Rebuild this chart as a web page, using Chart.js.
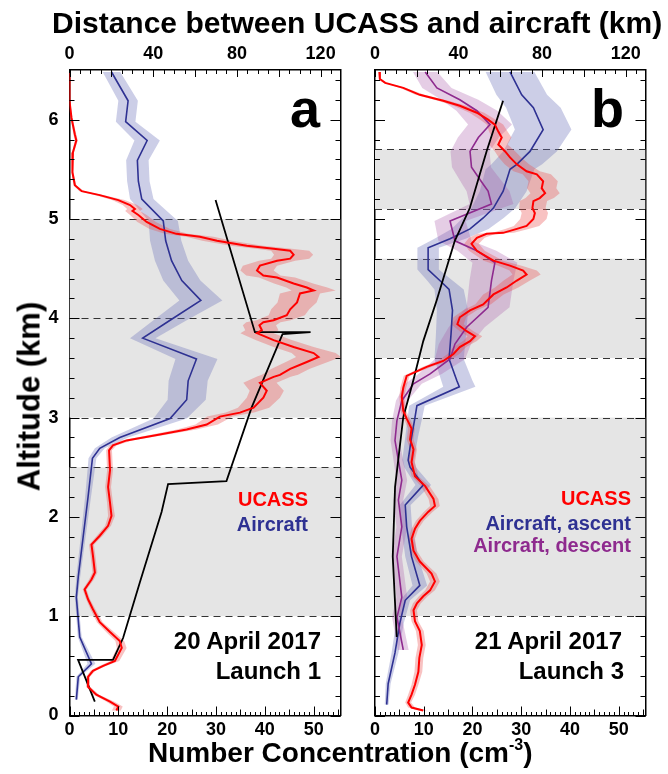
<!DOCTYPE html>
<html>
<head>
<meta charset="utf-8">
<script src="https://cdn.jsdelivr.net/npm/chart.js@4.4.1/dist/chart.umd.min.js"></script>
<style>
  html, body { margin: 0; padding: 0; background: #fff; }
  #wrap { position: relative; width: 668px; height: 774px; overflow: hidden;
          font-family: "Liberation Sans", Arial, sans-serif; font-weight: bold; }
  canvas { position: absolute; left: 0; top: 0; }
  .t { position: absolute; white-space: nowrap; line-height: 1; }
</style>
</head>
<body>
<div id="wrap">
  <canvas id="panelA" width="668" height="774"></canvas>
  <canvas id="panelB" width="668" height="774"></canvas>

  <div class="t" style="left:52px; top:7.6px; font-size:30px;">Distance between UCASS and aircraft (km)</div>
  <div class="t" style="left:148px; top:739px; font-size:28px;">Number Concentration (cm<span style="font-size:16px; position:relative; top:-12px;">-3</span>)</div>
  <div class="t" style="left:-121px; top:380.5px; width:300px; text-align:center; font-size:31px; transform:rotate(-90deg);">Altitude (km)</div>

  <div class="t" style="right:348px; top:81px; font-size:54px;">a</div>
  <div class="t" style="right:360px; top:489px; font-size:20px; color:#ff0000;">UCASS</div>
  <div class="t" style="right:360px; top:514px; font-size:20px; color:#2e3192;">Aircraft</div>
  <div class="t" style="right:347px; top:628.7px; font-size:24px;">20 April 2017</div>
  <div class="t" style="right:347px; top:658.7px; font-size:24px;">Launch 1</div>

  <div class="t" style="right:44px; top:81px; font-size:54px;">b</div>
  <div class="t" style="right:37px; top:488px; font-size:20px; color:#ff0000;">UCASS</div>
  <div class="t" style="right:37px; top:513px; font-size:20px; color:#2e3192;">Aircraft, ascent</div>
  <div class="t" style="right:37px; top:535px; font-size:20px; color:#8e2a8e;">Aircraft, descent</div>
  <div class="t" style="right:46px; top:628.7px; font-size:24px;">21 April 2017</div>
  <div class="t" style="right:44px; top:658.7px; font-size:24px;">Launch 3</div>
</div>
<script>
// tick labels
const concTicks = [0, 10, 20, 30, 40, 50];
const kmTicks = [0, 40, 80, 120];
const altTicks = [0, 1, 2, 3, 4, 5, 6];

// shaded altitude layers (km) and dashed layer edges
const layersA = [[1, 2.5], [3, 5]];
const edgesA = [1, 2.5, 3, 4, 5];
const layersB = [[1, 3], [3.6, 4.6], [5.1, 5.7]];
const edgesB = [1, 3, 3.6, 4.6, 5.1, 5.7];

// ---- 20 April 2017, launch 1 ----
const ucassA_alt = [6.47,6.19,6.02,5.85,5.79,5.67,5.47,5.34,5.28,5.24,
  5.19,5.14,5.10,5.08,5.04,4.97,4.90,4.85,4.82,4.78,
  4.73,4.70,4.68,4.64,4.60,4.58,4.53,4.48,4.43,4.41,
  4.35,4.31,4.28,4.25,4.16,4.09,4.03,3.98,3.96,3.93,
  3.88,3.85,3.78,3.71,3.65,3.61,3.56,3.49,3.43,3.41,
  3.35,3.27,3.20,3.10,3.05,3.01,2.93,2.88,2.83,2.77,
  2.72,2.67,2.47,2.30,2.14,2.01,1.91,1.81,1.72,1.61,
  1.44,1.37,1.27,1.17,1.07,0.94,0.84,0.75,0.68,0.55,
  0.50,0.45,0.39,0.29,0.21,0.14,0.09,0.05];
const ucassA_conc = [0.0,0.0,0.4,1.1,1.4,0.7,0.6,1.1,2.5,6.2,
  10.0,12.4,13.4,12.9,14.1,15.8,18.5,21.9,26.7,30.2,
  36.3,41.8,45.2,45.9,45.2,42.5,39.0,38.4,39.7,42.5,
  45.9,48.6,50.0,47.2,46.6,45.2,44.5,41.8,39.7,38.9,
  39.4,38.4,41.8,45.9,50.0,51.0,48.6,45.2,43.1,41.8,
  39.0,40.4,39.7,37.7,34.9,30.8,28.1,24.0,18.5,11.7,
  8.9,8.1,8.3,7.9,8.3,8.6,7.9,6.2,4.5,4.8,
  5.2,4.5,3.1,3.8,4.8,6.2,8.3,10.3,10.7,9.3,
  6.9,4.8,3.8,3.8,5.5,8.3,10.0,9.6];
const ucassA_err = [0.1,0.1,0.2,0.3,0.3,0.2,0.2,0.3,0.5,0.9,
  1.3,1.5,1.6,1.5,1.7,1.9,2.1,2.4,2.8,3.0,
  3.3,3.7,3.9,4.0,3.9,3.7,3.5,3.4,3.5,3.7,
  4.0,4.2,4.5,4.1,4.0,3.9,3.7,3.5,3.5,3.4,
  3.4,3.4,3.7,4.1,4.5,4.6,4.3,3.9,3.7,3.5,
  3.4,3.5,3.4,3.2,2.9,2.6,2.3,2.0,1.6,1.1,
  0.7,0.6,0.6,0.6,0.6,0.7,0.6,0.6,0.5,0.5,
  0.5,0.5,0.4,0.4,0.5,0.6,0.8,0.9,1.0,0.9,
  0.7,0.5,0.4,0.4,0.6,0.8,0.9,0.9];

const aircraftA_alt = [6.48,6.19,5.98,5.79,5.59,5.38,5.20,4.98,4.78,4.58,4.38,4.18,3.98,3.80,3.59,3.37,3.18,2.99,2.80,2.69,2.59,2.20,1.80,1.40,1.19,0.79,0.52,0.39,0.16];
const aircraftA_conc = [8.6,12.0,11.5,15.9,13.9,14.1,14.8,19.2,19.7,20.9,23.0,26.9,20.6,15.0,26.0,24.3,24.0,20.6,10.3,6.2,4.7,3.8,2.8,1.8,1.4,2.1,4.5,1.8,1.4];
const aircraftA_err = [1.8,2.0,2.0,2.6,2.3,2.3,2.4,3.0,3.2,3.4,3.8,4.4,3.4,2.6,4.3,4.0,3.9,3.4,1.7,1.0,0.8,0.6,0.5,0.4,0.3,0.4,0.8,0.4,0.3];

const distA_km = [69.8,88.6,115.2,101.8,87.0,75.0,47.1,44.0,33.6,25.6,20.8,4.1,12.1];
const distA_alt = [5.19,3.86,3.86,3.84,3.10,2.36,2.33,2.05,1.34,0.78,0.56,0.56,0.14];

// ---- 21 April 2017, launch 3 ----
const ucassB_alt = [6.48,6.41,6.37,6.32,6.25,6.19,6.14,6.07,6.00,5.95,
  5.88,5.82,5.75,5.68,5.62,5.55,5.48,5.45,5.38,5.31,
  5.26,5.21,5.18,5.11,5.06,5.00,4.93,4.90,4.86,4.85,
  4.81,4.75,4.68,4.58,4.53,4.48,4.44,4.38,4.31,4.24,
  4.14,4.08,4.01,3.94,3.87,3.82,3.77,3.71,3.64,3.57,
  3.51,3.42,3.30,3.21,3.07,2.99,2.89,2.78,2.68,2.55,
  2.41,2.31,2.18,2.11,2.05,1.96,1.88,1.78,1.66,1.55,
  1.48,1.43,1.35,1.26,1.20,1.13,1.06,0.95,0.85,0.71,
  0.58,0.44,0.31,0.21,0.13,0.08,0.05];
const ucassB_conc = [0.9,1.0,2.1,5.8,9.2,14.0,17.4,20.9,23.2,24.6,
  25.3,26.0,25.3,26.7,27.7,29.1,31.1,33.2,34.5,34.2,
  34.9,33.8,32.5,32.3,32.8,32.5,31.1,29.1,26.3,22.9,
  20.9,19.8,20.9,24.3,27.7,30.4,31.1,29.1,27.0,24.3,
  22.2,19.5,17.4,16.9,18.8,20.5,19.5,17.4,16.1,14.0,
  10.6,6.5,5.8,5.5,5.8,6.5,7.5,7.2,7.9,7.5,
  8.2,10.3,12.0,12.3,10.9,9.2,8.2,7.5,7.9,9.2,
  10.6,11.6,12.3,11.3,9.9,8.6,7.9,8.2,9.2,9.6,
  9.1,8.9,8.2,7.5,6.8,7.5,9.9];
const ucassB_err = [0.2,0.2,0.3,0.6,0.9,1.1,1.3,1.5,1.6,1.7,
  1.9,2.0,1.9,2.1,2.3,2.5,2.7,2.9,3.0,3.0,
  3.0,2.9,2.8,2.7,2.7,2.7,2.6,2.4,2.2,1.9,
  1.6,1.5,1.6,2.0,2.4,2.8,2.9,2.7,2.4,2.1,
  1.6,1.4,1.3,1.3,1.4,1.5,1.4,1.3,1.2,1.1,
  0.9,0.6,0.6,0.5,0.6,0.6,0.7,0.7,0.7,0.7,
  0.7,0.9,1.0,1.0,0.9,0.8,0.7,0.7,0.7,0.8,
  0.9,1.0,1.0,1.0,0.9,0.8,0.7,0.7,0.8,0.8,
  0.8,0.8,0.7,0.7,0.6,0.7,0.8];

const ascentB_alt = [6.48,6.25,6.12,5.90,5.68,5.55,5.50,5.28,5.11,5.01,4.90,4.80,4.71,4.49,4.38,4.29,4.08,3.84,3.59,3.37,3.31,3.12,3.00,2.80,2.57,2.50,2.32,2.12,1.90,1.60,1.31,1.16,0.93,0.63,0.32,0.11];
const ascentB_conc = [27.7,30.1,32.5,34.5,31.8,29.1,27.7,26.3,24.3,22.2,19.5,15.4,10.9,10.9,13.3,15.2,15.9,15.6,15.2,16.8,17.3,8.6,8.2,7.5,6.8,7.2,9.9,6.2,6.5,7.5,9.2,6.2,5.1,4.1,2.7,2.4];
const ascentB_err = [5.0,5.2,5.6,5.8,5.5,5.2,5.0,4.8,4.5,4.2,3.8,3.2,2.2,2.2,2.6,3.0,3.2,3.1,3.0,3.2,3.3,1.6,1.5,1.3,1.2,1.2,1.6,1.1,1.1,1.3,1.5,1.0,0.8,0.7,0.5,0.4];

const descentB_alt = [6.48,6.32,6.20,6.09,5.95,5.82,5.68,5.52,5.35,5.28,5.15,4.98,4.78,4.68,4.56,4.38,4.11,3.91,3.74,3.59,3.44,3.34,3.17,2.97,2.77,2.37,2.17,1.90,1.60,1.19,0.99,0.66];
const descentB_conc = [10.3,12.7,17.4,20.9,23.6,21.2,19.5,19.8,22.2,23.2,23.9,15.4,16.4,20.9,24.6,23.9,23.2,18.8,16.4,15.4,11.3,7.9,5.5,4.5,4.1,5.5,4.8,5.5,4.5,5.5,4.5,5.8];
const descentB_err = [2.5,3.0,3.8,4.2,4.5,4.2,4.0,4.0,4.3,4.4,4.5,3.2,3.4,4.0,4.6,4.5,4.4,3.7,3.3,3.1,2.4,1.7,1.2,1.0,0.9,1.1,1.0,1.1,1.0,1.1,1.0,1.1];

const distB_km = [61.3,53.4,45.4,38.2,29.5,23.1,18.3,13.5,9.6,8.5,9.6,10.4];
const distB_alt = [6.19,5.68,5.11,4.78,4.18,3.77,3.37,3.00,2.30,1.60,1.13,0.79];

const RED = '#ff0000', BLUE = '#2e3192', PURPLE = '#8e2a8e';

function pts(xs, ys) { return xs.map((v, i) => ({ x: v, y: ys[i] })); }

function line(data, color, axis, width) {
  return { data, xAxisID: axis, yAxisID: 'y', showLine: true, borderColor: color,
           borderWidth: width, pointRadius: 0, tension: 0, fill: false };
}

// grey layers, dashed edges, error envelopes, inward ticks
function panelDeco(layers, edges, envelopes) {
  return {
    id: 'panelDeco',
    beforeDatasetsDraw(chart) {
      const { ctx, chartArea: a, scales } = chart;
      const x = scales.x, y = scales.y;
      ctx.save();
      ctx.beginPath();
      ctx.rect(a.left, a.top, a.right - a.left, a.bottom - a.top);
      ctx.clip();
      ctx.fillStyle = '#e5e5e5';
      layers.forEach(([lo, hi]) => {
        const y1 = y.getPixelForValue(hi), y2 = y.getPixelForValue(lo);
        ctx.fillRect(a.left, y1, a.right - a.left, y2 - y1);
      });
      ctx.strokeStyle = '#333';
      ctx.lineWidth = 1;
      ctx.setLineDash([7, 5]);
      edges.forEach(v => {
        const py = Math.round(y.getPixelForValue(v)) + 0.5;
        ctx.beginPath(); ctx.moveTo(a.left, py); ctx.lineTo(a.right, py); ctx.stroke();
      });
      ctx.setLineDash([]);
      envelopes.forEach(env => {
        ctx.fillStyle = env.color;
        ctx.beginPath();
        env.alt.forEach((h, i) => {
          const px = x.getPixelForValue(env.conc[i] - env.err[i]), py = y.getPixelForValue(h);
          if (i) ctx.lineTo(px, py); else ctx.moveTo(px, py);
        });
        for (let i = env.alt.length - 1; i >= 0; i--) {
          ctx.lineTo(x.getPixelForValue(env.conc[i] + env.err[i]), y.getPixelForValue(env.alt[i]));
        }
        ctx.closePath();
        ctx.fill();
      });
      ctx.restore();
    },
    afterDraw(chart) {
      const { ctx, chartArea: a, scales } = chart;
      ctx.save();
      ctx.strokeStyle = '#000';
      ctx.lineWidth = 1;
      ctx.beginPath();
      for (let i = 0; i <= 55; i++) {           // bottom, concentration
        const px = Math.round(scales.x.getPixelForValue(i)) + 0.5;
        const len = i % 10 === 0 ? 9 : (i % 5 === 0 ? 6 : 3.5);
        ctx.moveTo(px, a.bottom); ctx.lineTo(px, a.bottom - len);
      }
      for (let k = 0; k <= 125; k += 5) {       // top, distance
        const px = Math.round(scales.xTop.getPixelForValue(k)) + 0.5;
        const len = k % 20 === 0 ? 7 : 4;
        ctx.moveTo(px, a.top); ctx.lineTo(px, a.top + len);
      }
      for (let j = 0; j <= 32; j++) {           // left and right, altitude
        const py = Math.round(scales.y.getPixelForValue(j * 0.2)) + 0.5;
        const len = j % 5 === 0 ? 10 : 5;
        ctx.moveTo(a.left, py); ctx.lineTo(a.left + len, py);
        ctx.moveTo(a.right, py); ctx.lineTo(a.right - len, py);
      }
      ctx.stroke();
      ctx.restore();
    }
  };
}

const tickFont = { family: 'Liberation Sans', size: 18, weight: 'bold' };
const border = { display: true, color: '#000', width: 1.5 };

function makeScales(leftWidth, showAltLabels) {
  return {
    x: { type: 'linear', position: 'bottom', min: 0, max: 55.5, border,
         grid: { display: false, drawTicks: false },
         ticks: { font: tickFont, color: '#000', padding: 4, maxRotation: 0, autoSkip: false },
         afterBuildTicks: s => { s.ticks = concTicks.map(v => ({ value: v })); },
         afterFit: s => { s.height = 58.5; } },
    xTop: { type: 'linear', position: 'top', min: 0, max: 129.5, border,
         grid: { display: false, drawTicks: false },
         ticks: { font: tickFont, color: '#000', padding: 5, maxRotation: 0, autoSkip: false },
         afterBuildTicks: s => { s.ticks = kmTicks.map(v => ({ value: v })); },
         afterFit: s => { s.height = 70; } },
    y: { type: 'linear', position: 'left', min: 0, max: 6.5, border,
         grid: { display: false, drawTicks: false },
         ticks: { display: showAltLabels, font: tickFont, color: '#000', padding: 11, autoSkip: false },
         afterBuildTicks: s => { s.ticks = altTicks.map(v => ({ value: v })); },
         afterFit: s => { s.width = leftWidth; } },
    yR: { type: 'linear', position: 'right', min: 0, max: 6.5, border,
         grid: { display: false, drawTicks: false },
         ticks: { display: false },
         afterFit: s => { s.width = 0; } }
  };
}

function baseOptions(leftWidth, rightPad, showAltLabels) {
  return {
    responsive: false,
    animation: false,
    events: [],
    layout: { padding: { left: 0, right: rightPad, top: 0, bottom: 0 } },
    plugins: { legend: { display: false }, tooltip: { enabled: false } },
    scales: makeScales(leftWidth, showAltLabels)
  };
}

new Chart(document.getElementById('panelA').getContext('2d'), {
  type: 'scatter',
  data: {
    datasets: [
      line(pts(ucassA_conc, ucassA_alt), RED, 'x', 2),
      line(pts(distA_km, distA_alt), '#000', 'xTop', 1.8),
      line(pts(aircraftA_conc, aircraftA_alt), BLUE, 'x', 1.6)
    ]
  },
  options: baseOptions(69.5, 327.5, true),
  plugins: [panelDeco(layersA, edgesA, [
    { alt: aircraftA_alt, conc: aircraftA_conc, err: aircraftA_err, color: 'rgba(110,115,185,0.35)' },
    { alt: ucassA_alt, conc: ucassA_conc, err: ucassA_err, color: 'rgba(235,80,80,0.35)' }
  ])]
});

new Chart(document.getElementById('panelB').getContext('2d'), {
  type: 'scatter',
  data: {
    datasets: [
      line(pts(ucassB_conc, ucassB_alt), RED, 'x', 2),
      line(pts(distB_km, distB_alt), '#000', 'xTop', 1.8),
      line(pts(descentB_conc, descentB_alt), PURPLE, 'x', 1.6),
      line(pts(ascentB_conc, ascentB_alt), BLUE, 'x', 1.6)
    ]
  },
  options: baseOptions(375, 22.5, false),
  plugins: [panelDeco(layersB, edgesB, [
    { alt: ascentB_alt, conc: ascentB_conc, err: ascentB_err, color: 'rgba(110,115,185,0.35)' },
    { alt: descentB_alt, conc: descentB_conc, err: descentB_err, color: 'rgba(170,90,170,0.3)' },
    { alt: ucassB_alt, conc: ucassB_conc, err: ucassB_err, color: 'rgba(235,80,80,0.35)' }
  ])]
});
</script>
</body>
</html>
